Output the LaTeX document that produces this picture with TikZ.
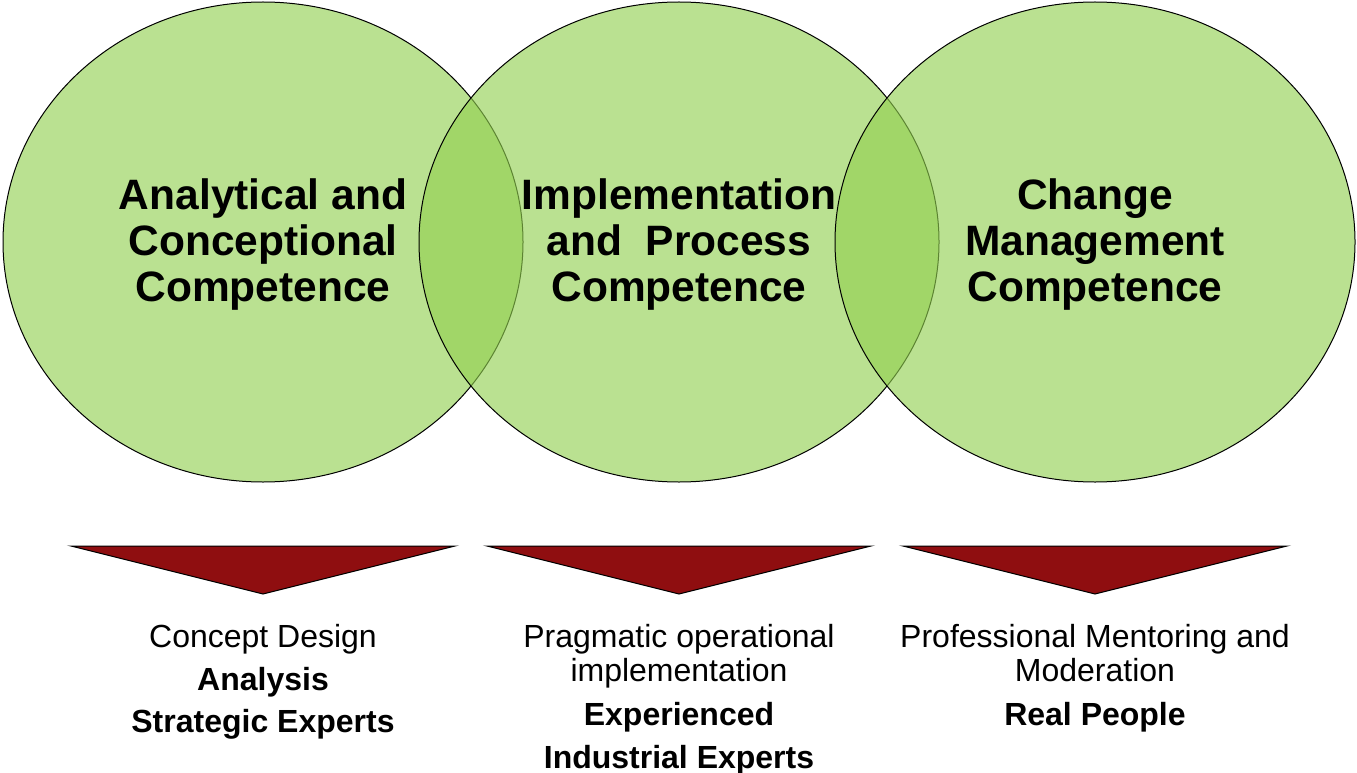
\documentclass[tikz,border=0pt]{standalone}
\usepackage{fontspec}
\setmainfont{Liberation Sans}
\usetikzlibrary{shapes.geometric,positioning}
\definecolor{venngreen}{HTML}{92D050}
\definecolor{funnelred}{RGB}{143,14,16}

\begin{document}
\begin{tikzpicture}[x=1pt, y=-1pt,
    competence/.style={ellipse, draw=black, line width=1pt, fill=venngreen,
                       fill opacity=0.63, minimum width=520pt, minimum height=480pt, inner sep=0pt},
    title/.style={align=center, font=\fontsize{42.5}{46}\selectfont\bfseries},
    outcome/.style={align=center, anchor=north, inner sep=0pt, font=\fontsize{32}{34}\selectfont},
    funnel/.style={draw=black, line width=1pt, fill=funnelred, line join=miter}]
    \useasboundingbox (0,0) rectangle (1357,773);

    % Overlapping competence circles
    \foreach \n/\x in {anal/263, impl/679, chg/1095} {
        \node[competence] (\n) at (\x, 242) {};
    }

    % Titles on top of the circles
    \node[title] (analtxt) at (263, 245) {Analytical and\\Conceptional\\Competence};
    \node[title] (impltxt) at (679, 245) {Implementation\\and~ Process\\Competence};
    \node[title] (chgtxt)  at (1095, 245) {Change\\Management\\Competence};

    % Funnels below each circle
    \foreach \n/\x in {anal/263, impl/679, chg/1095} {
        \coordinate (\n tl) at (\x-192, 546);
        \coordinate (\n tr) at (\x+192, 546);
        \coordinate (\n tip) at (\x, 594);
        \draw[funnel] (\n tl) -- (\n tr) -- (\n tip) -- cycle;
    }

    % Outcomes
    \node[outcome] (analout) at (263, 624) {Concept Design\\[9pt]\textbf{Analysis}\\[8pt]\textbf{Strategic Experts}};
    \node[outcome] (implout) at (679, 624) {Pragmatic operational\\implementation\\[10pt]\textbf{Experienced}\\[9pt]\textbf{Industrial Experts}};
    \node[outcome] (chgout)  at (1095, 624) {Professional Mentoring and\\Moderation\\[10pt]\textbf{Real People}};
\end{tikzpicture}
\end{document}
